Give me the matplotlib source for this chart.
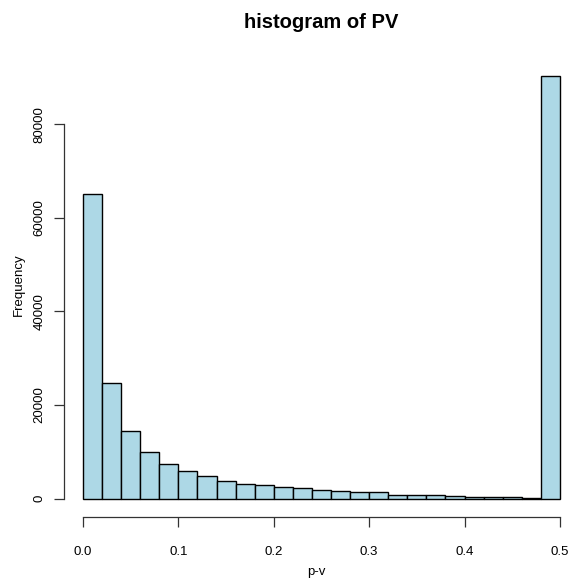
import numpy as np
import matplotlib
matplotlib.use("Agg")
import matplotlib.pyplot as plt

plt.rcParams['font.family'] = ['Liberation Sans', 'DejaVu Sans']

edges = np.round(np.arange(0, 0.52, 0.02), 2)
counts = [65000, 24680, 14360, 9870, 7310, 5880, 4870, 3740, 3100, 2820,
          2390, 2180, 1710, 1540, 1320, 1320, 750, 750, 750, 530,
          260, 260, 260, 60, 90340]
xticks = [0.0, 0.1, 0.2, 0.3, 0.4, 0.5]
yticks = [0, 20000, 40000, 60000, 80000]

W, H = 574, 578
fig = plt.figure(figsize=(W / 100, H / 100), dpi=100)
# axes box in pixels: left 64, right 569.5, top 60, bottom 510
ax = fig.add_axes([64 / W, 1 - 510 / H, 505.5 / W, 450 / H])

ax.bar(edges[:-1], counts, width=np.diff(edges), align='edge',
       color='#ADD8E6', edgecolor='black', linewidth=1.0)

ax.set_xlim(-0.0199, 0.51)
ax.set_ylim(-(510 - 498.5) / 0.00468, (498.5 - 60) / 0.00468)

for s in ['top', 'right']:
    ax.spines[s].set_visible(False)
ax.spines['bottom'].set_position(('outward', 6.7 * 72 / 100))
ax.spines['bottom'].set_bounds(0, 0.5)
ax.spines['left'].set_bounds(0, 80000)
for s in ['bottom', 'left']:
    ax.spines[s].set_color('#333333')
    ax.spines[s].set_linewidth(0.9)

ax.set_xticks(xticks)
ax.set_xticklabels([f"{v:.1f}" for v in xticks])
ax.set_yticks(yticks)
ax.set_yticklabels([str(v) for v in yticks], rotation=90, va='center')
ax.tick_params(axis='x', length=7, width=0.9, pad=14, labelsize=9.5, color='#333333')
ax.tick_params(axis='y', length=7.3, width=0.9, pad=6, labelsize=9.5, color='#333333')

ax.set_xlabel("p-v", fontsize=9.5, labelpad=6)
ax.set_ylabel("Frequency", fontsize=9.5, labelpad=6)
fig.text(321 / W, 1 - 22 / H, "histogram of PV", ha='center', va='center',
         fontsize=14.5, fontweight='bold')

fig.savefig("out.png", dpi=100)
